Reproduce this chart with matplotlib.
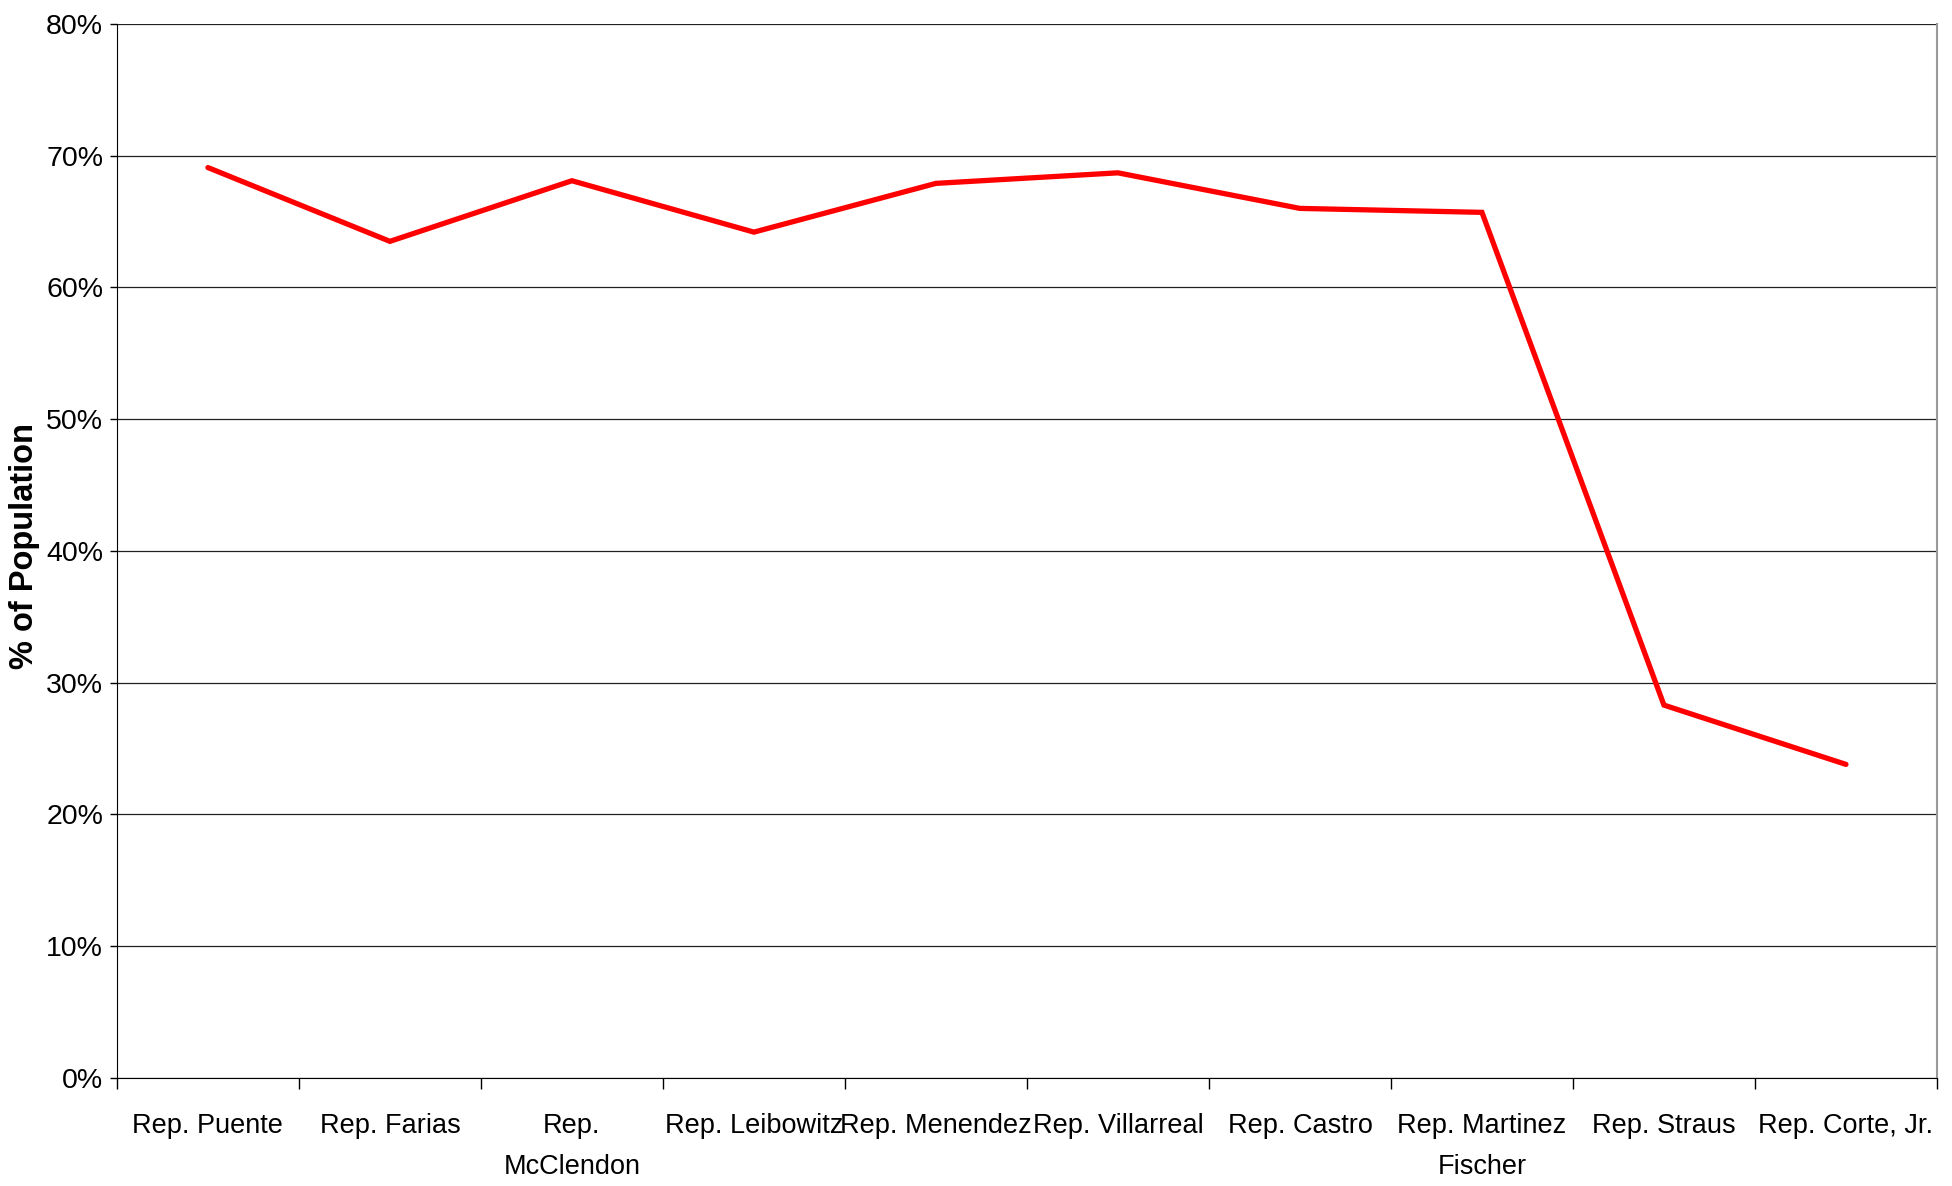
import matplotlib
matplotlib.use("Agg")
import matplotlib.pyplot as plt
from matplotlib.ticker import FixedLocator, FuncFormatter

categories = ["Rep. Puente", "Rep. Farias", "Rep.\nMcClendon", "Rep. Leibowitz",
              "Rep. Menendez", "Rep. Villarreal", "Rep. Castro",
              "Rep. Martinez\nFischer", "Rep. Straus", "Rep. Corte, Jr."]
values = [69.1, 63.5, 68.1, 64.2, 67.9, 68.7, 66.0, 65.7, 28.3, 23.8]
yticks = [0, 10, 20, 30, 40, 50, 60, 70, 80]
ylabel = "% of Population"

plt.rcParams['font.family'] = ['Liberation Sans', 'DejaVu Sans']

fig = plt.figure(figsize=(19.52, 11.86), dpi=100)
ax = fig.add_axes([0.0599, 0.0911, 0.9324, 0.8887])

x = list(range(len(categories)))
ax.plot(x, values, color="#FF0000", lw=3.8, solid_joinstyle="miter", solid_capstyle="round", zorder=3)

ax.set_xlim(-0.5, len(categories) - 0.5)
ax.set_ylim(0, 80)

ax.yaxis.set_major_locator(FixedLocator(yticks))
ax.yaxis.set_major_formatter(FuncFormatter(lambda v, p: f"{int(v)}%"))
ax.grid(axis="y", color="#222222", lw=0.9, zorder=1)

ax.xaxis.set_major_locator(FixedLocator([i - 0.5 for i in range(len(categories) + 1)]))
ax.xaxis.set_major_formatter(FuncFormatter(lambda v, p: ""))
ax.xaxis.set_minor_locator(FixedLocator(x))
ax.set_xticklabels(categories, minor=True)

ax.tick_params(axis="x", which="major", length=8, width=1, direction="out", color="black")
ax.tick_params(axis="x", which="minor", length=0, pad=25, labelsize=19.5)
ax.tick_params(axis="y", which="major", length=5, width=1, direction="out", pad=5, labelsize=20.5)

for lbl in ax.get_xticklabels(minor=True):
    lbl.set_linespacing(1.75)

ax.spines["top"].set_visible(False)
ax.spines["right"].set_color("#999999")
ax.spines["right"].set_linewidth(1.5)
ax.spines["left"].set_color("black")
ax.spines["bottom"].set_color("black")

fig.text(0.0128, 0.54, ylabel, rotation=90, fontsize=23.5, fontweight="bold",
         ha="center", va="center")

fig.savefig("out.png", dpi=100, facecolor="white")
